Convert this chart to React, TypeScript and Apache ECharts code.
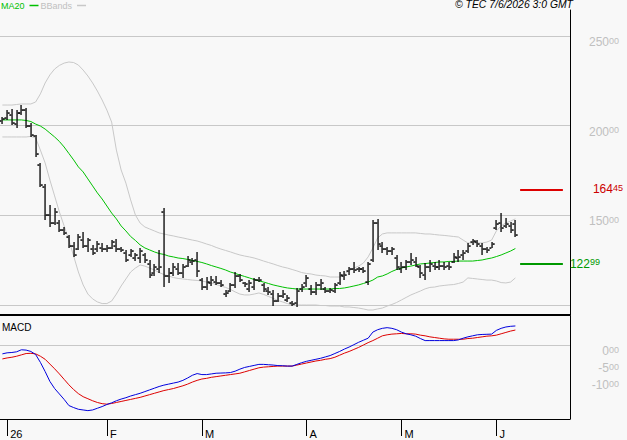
import React, { useEffect, useRef } from "react";
import * as echarts from "echarts";

// ---- Data ----
const categoryCount = 120; // trading days from 31 Dec 2025, incl. empty days to the right
const tickIndex = [1, 22, 42, 64, 84, 104];
const tickLabels = ["26", "F", "M", "A", "M", "J"];
const priceLabelValues = [150, 200, 250];

const openP = [
  202.5, 204, 206, 201, 207, 209, 200, 194, 178, 166,
  150, 146, 146, 142, 138, 133, 131, 136, 133, 131,
  131, 132, 131, 132, 133, 131, 129, 128, 126, 126,
  128, 123, 118, 120, 152, 116, 118, 120, 118, 122,
  124, 125, 114, 110, 112, 113, 112, 106, 108, 111,
  116, 112, 109, 110, 114, 111, 108, 106, 102, 105,
  103, 101, 101, 109, 112, 109, 107, 111, 109, 108,
  108, 112, 116, 119, 120, 120, 120, 113, 125, 146,
  133, 131, 130, 126, 120, 121, 124, 124, 121, 117,
  121, 122, 121, 122, 122, 124, 126, 128, 130, 135,
  135, 133, 131, 132, 143, 146, 144, 144, 145,
];
const highP = [
  204.8, 208.7, 209.3, 208.7, 211.5, 209.9, 201.5, 194.8, 179.2, 167.5,
  155.8, 154.1, 147.4, 143.5, 139.0, 135.1, 139.6, 140.7, 137.4, 133.5,
  135.7, 134.6, 133.5, 136.2, 136.8, 132.3, 130.7, 131.2, 129.0, 131.8,
  129.0, 125.1, 122.9, 130.7, 154.1, 120.6, 123.4, 123.4, 122.9, 127.3,
  126.2, 129.6, 115.1, 115.6, 116.2, 116.2, 113.9, 108.4, 112.3, 118.4,
  117.3, 112.8, 113.9, 115.1, 115.6, 112.3, 110.0, 108.4, 106.7, 108.4,
  105.6, 102.2, 109.5, 111.7, 116.7, 111.2, 112.8, 114.5, 110.0, 109.5,
  112.3, 118.4, 119.0, 121.2, 124.0, 121.2, 121.2, 124.0, 147.4, 148.0,
  135.1, 132.3, 132.3, 127.9, 124.0, 125.1, 129.0, 126.8, 122.3, 123.4,
  125.1, 124.0, 125.1, 124.0, 124.0, 129.0, 130.7, 130.7, 134.6, 136.8,
  136.2, 134.6, 132.3, 135.1, 147.4, 151.3, 148.5, 146.3, 147.4,
];
const lowP = [
  200.9, 203.2, 200.4, 198.7, 205.9, 198.7, 193.7, 182.5, 165.8, 147.4,
  143.5, 144.6, 140.7, 139.0, 131.8, 126.8, 130.7, 131.8, 129.6, 127.9,
  129.6, 129.6, 129.6, 131.2, 129.6, 129.6, 124.0, 126.8, 124.5, 123.4,
  123.4, 115.1, 116.2, 117.8, 110.0, 112.3, 116.2, 116.7, 115.1, 121.2,
  122.3, 115.6, 108.4, 108.4, 110.6, 111.2, 110.0, 104.5, 107.3, 109.5,
  112.8, 110.0, 107.3, 108.4, 112.8, 107.3, 105.6, 99.4, 101.7, 103.9,
  101.7, 99.4, 98.9, 107.3, 110.0, 105.6, 105.6, 108.4, 106.7, 106.7,
  106.7, 111.2, 113.9, 116.7, 117.8, 118.4, 117.8, 111.2, 124.0, 130.7,
  129.0, 127.9, 127.9, 119.5, 117.8, 119.5, 122.3, 121.2, 115.1, 113.9,
  118.4, 119.5, 119.5, 119.5, 119.5, 123.4, 124.0, 125.1, 129.0, 133.5,
  132.3, 127.9, 129.0, 131.8, 141.8, 140.7, 142.9, 140.2, 137.9,
];
const closeP = [
  203.5, 207, 201.5, 207, 209, 200, 195, 184, 167, 150,
  146, 152, 142, 140, 133, 128, 138, 133, 136, 129,
  134, 131, 132, 135, 131, 130.5, 125, 130, 128, 130,
  125, 117, 121, 121, 116, 118, 121, 118, 121, 125,
  124.5, 119, 110, 113, 114, 112, 111, 106.5, 111, 116,
  114, 111.5, 112, 114, 114, 109, 107, 102, 105, 106,
  104, 100.5, 108, 110, 115, 107, 111, 112, 108, 108.5,
  111, 117, 117, 120, 119.5, 120, 119, 123, 146, 134,
  131, 130, 131, 121, 121, 124, 125, 122, 118, 121,
  123, 121, 122, 121, 121, 127, 127, 129, 133, 135.5,
  134, 131, 130.5, 134, 145, 143, 145, 142, 139,
];
const ma20 = [
  203.2, 203.2, 203.2, 203.2, 203.2, 202.9, 202.3, 200.9, 199.8, 198.1,
  195.9, 193.7, 191.2, 188.1, 184.5, 180.9, 177.0, 174.2, 170.3, 166.4,
  162.5, 159.1, 155.2, 151.3, 148.0, 144.1, 141.3, 138.2, 136.0, 133.5,
  131.8, 130.7, 129.6, 128.7, 128.2, 127.3, 126.8, 126.2, 125.9, 125.4,
  124.8, 124.3, 123.7, 122.9, 122.0, 121.2, 120.4, 119.5, 118.4, 117.6,
  116.7, 115.9, 115.1, 114.2, 113.4, 112.8, 112.0, 111.2, 110.6, 110.0,
  109.5, 109.2, 108.9, 108.9, 108.9, 108.9, 108.9, 108.9, 108.9, 108.9,
  109.2, 109.2, 109.5, 110.0, 110.6, 111.2, 112.0, 112.8, 113.9, 115.6,
  116.2, 117.3, 118.7, 119.8, 120.6, 121.2, 121.7, 122.3, 122.9, 123.1,
  123.4, 123.7, 124.0, 124.0, 124.3, 124.3, 124.5, 124.5, 124.5, 124.5,
  124.8, 125.1, 125.7, 126.2, 127.0, 127.9, 129.0, 130.1, 131.5,
];
const bbUpper = [
  211.5, 211.5, 211.5, 211.8, 212.1, 212.1, 212.1, 213.2, 217.7, 223.8,
  228.3, 231.6, 233.6, 234.9, 235.5, 235.2, 233.8, 231.0, 227.7, 223.8,
  219.3, 214.3, 208.7, 202.0, 186.4, 175.3, 168.0, 158.6, 150.2, 145.7,
  143.5, 142.4, 141.3, 140.2, 139.6, 139.0, 138.5, 137.9, 137.4, 136.8,
  136.2, 135.7, 134.9, 134.0, 133.2, 132.1, 131.2, 130.4, 129.6, 128.7,
  127.9, 127.3, 126.8, 126.2, 125.4, 124.5, 123.7, 122.9, 122.0, 121.2,
  120.6, 119.8, 119.0, 118.1, 117.6, 117.3, 116.7, 116.4, 116.2, 115.6,
  115.6, 115.6, 117.3, 119.0, 120.6, 121.7, 123.4, 126.8, 131.8, 137.4,
  139.6, 140.2, 140.2, 140.2, 140.2, 140.2, 140.2, 140.2, 139.9, 139.6,
  139.6, 139.3, 139.0, 138.8, 138.5, 138.2, 137.9, 136.2, 134.6, 134.6,
  134.6, 134.6, 135.1, 136.2, 141.3, 144.1, 145.8, 146.8, 148.0,
];
const bbLower = [
  193.7, 193.7, 193.7, 193.7, 193.7, 193.7, 194.0, 193.1, 186.4, 179.2,
  169.7, 160.8, 151.9, 144.1, 136.2, 127.3, 118.4, 111.2, 106.1, 103.4,
  101.7, 100.8, 100.8, 102.2, 106.1, 110.6, 114.5, 118.4, 120.6, 122.3,
  121.7, 120.6, 119.5, 118.1, 117.0, 116.2, 115.3, 114.8, 114.5, 114.2,
  113.9, 113.7, 113.4, 112.8, 112.3, 111.4, 110.6, 109.8, 108.7, 107.3,
  106.1, 105.6, 105.6, 106.1, 106.7, 105.9, 104.8, 103.7, 102.5, 101.7,
  100.8, 100.0, 100.0, 100.0, 100.0, 100.0, 100.0, 99.7, 99.7, 99.4,
  99.4, 99.4, 98.9, 98.9, 98.6, 98.3, 97.8, 97.2, 97.2, 97.8,
  98.3, 99.4, 100.3, 101.4, 102.8, 104.2, 105.6, 106.7, 107.8, 109.0,
  109.8, 110.0, 110.6, 110.9, 111.2, 111.4, 112.0, 112.8, 115.1, 114.8,
  114.5, 114.2, 113.9, 113.9, 113.4, 112.5, 112.3, 112.8, 115.1,
];
const macdLine = [
  -2.6, -2.3, -2.2, -2.0, -1.4, -1.5, -1.9, -2.8, -5.1, -7.8,
  -10.7, -12.8, -14.4, -16.0, -17.8, -18.4, -18.9, -19.1, -19.3, -19.1,
  -18.6, -18.1, -17.5, -17.0, -16.4, -15.9, -15.5, -15.0, -14.6, -14.2,
  -13.7, -13.2, -12.7, -12.2, -11.8, -11.5, -11.2, -10.9, -10.4, -9.7,
  -8.9, -8.4, -8.7, -8.7, -8.5, -8.3, -8.25, -8.2, -8.1, -7.7,
  -7.1, -6.6, -6.3, -6.0, -5.7, -5.7, -5.8, -5.9, -6.05, -6.1,
  -6.2, -6.2, -5.7, -5.2, -4.8, -4.5, -4.2, -3.9, -3.5, -3.1,
  -2.5, -1.9, -1.2, -0.6, 0.1, 0.8, 1.4, 2.0, 3.8, 4.5,
  4.9, 5.1, 4.9, 4.5, 3.8, 3.3, 3.0, 2.6, 1.9, 1.3,
  1.3, 1.3, 1.3, 1.3, 1.3, 1.3, 1.5, 2.0, 2.4, 2.7,
  3.0, 3.1, 3.15, 3.2, 4.3, 4.9, 5.3, 5.5, 5.6,
];
const signalLine = [
  -4.1, -3.8, -3.6, -3.3, -2.9, -2.5, -2.45, -2.6, -3.3, -4.2,
  -5.6, -7.0, -8.5, -10.1, -11.7, -13.1, -14.3, -15.2, -15.8, -16.4,
  -16.9, -17.25, -17.4, -17.2, -16.9, -16.6, -16.3, -16.0, -15.7, -15.4,
  -15.0, -14.6, -14.2, -13.8, -13.4, -13.1, -12.8, -12.4, -12.0, -11.5,
  -10.9, -10.4, -10.0, -9.8, -9.5, -9.3, -9.1, -8.9, -8.7, -8.5,
  -8.3, -7.9, -7.5, -7.1, -6.7, -6.5, -6.4, -6.3, -6.2, -6.2,
  -6.2, -6.2, -5.9, -5.6, -5.3, -5.0, -4.7, -4.5, -4.2, -4.0,
  -3.6, -3.0, -2.4, -1.9, -1.3, -0.7, 0.0, 0.7, 1.3, 2.0,
  2.7, 3.0, 3.2, 3.3, 3.4, 3.3, 3.3, 3.2, 2.9, 2.7,
  2.4, 2.2, 2.0, 1.8, 1.7, 1.7, 1.7, 1.7, 1.9, 2.0,
  2.2, 2.4, 2.6, 2.7, 2.9, 3.3, 3.7, 4.1, 4.4,
];
const resistanceLevel = 164.45;
const supportLevel = 122.99;
const markerSpan = [109, 118];
const macdLabelValues = [0, -5, -10];

const FONT = '"Liberation Sans", Arial, Helvetica, sans-serif';
const GRID_C = "#c8c8c8";
const LABEL_C = "#c0c0c0";

function splitNum(v: number) {
  const s = v.toFixed(2).split(".");
  return [s[0], s[1]];
}

export default function App() {
  const ref = useRef<HTMLDivElement>(null);
  useEffect(() => {
    if (!ref.current) return;
    const chart = echarts.init(ref.current, undefined, { renderer: "svg" });
    const cats = Array.from({ length: categoryCount }, (_, i) => String(i));
    const showTick = (idx: number) => tickIndex.indexOf(idx) >= 0;
    const ohlc = openP.map((o, i) => [i, o, highP[i], lowP[i], closeP[i]]);

    const richNum = (color: string) => ({
      a: { fontSize: 12, color, fontFamily: FONT },
      b: { fontSize: 9, color, fontFamily: FONT, verticalAlign: "top" as const },
    });

    const option: any = {
      animation: false,
      backgroundColor: "#f8f8f8",
      textStyle: { fontFamily: FONT },
      title: [
        {
          text: "© TEC 7/6/2026 3:0 GMT",
          left: 455,
          top: -1,
          padding: 0,
          textStyle: { fontSize: 10.4, fontStyle: "italic", fontWeight: "normal", color: "#000", fontFamily: FONT },
        },
        {
          text: "MACD",
          left: 2,
          top: 322,
          padding: 0,
          textStyle: { fontSize: 10, fontWeight: "normal", color: "#000", fontFamily: FONT },
        },
      ],
      legend: {
        left: 1,
        top: 1,
        padding: 0,
        itemGap: 2,
        itemWidth: 9,
        itemHeight: 1.5,
        align: "right",
        icon: "rect",
        selectedMode: false,
        textStyle: { fontSize: 9, fontFamily: FONT },
        data: [
          { name: "MA20", textStyle: { color: "#00c000" } },
          { name: "BBands", textStyle: { color: LABEL_C } },
        ],
      },
      grid: [
        { left: 0, top: 10, width: 570, height: 305 },
        { left: 0, top: 316, width: 570, height: 103 },
      ],
      xAxis: [
        {
          type: "category",
          gridIndex: 0,
          data: cats,
          boundaryGap: true,
          axisLine: { show: true, onZero: false, lineStyle: { color: "#000", width: 2 } },
          axisTick: { show: false },
          axisLabel: { show: false },
          splitLine: { show: false },
        },
        {
          type: "category",
          gridIndex: 1,
          data: cats,
          boundaryGap: true,
          axisLine: { show: true, onZero: false, lineStyle: { color: "#000", width: 1 } },
          axisTick: {
            show: true,
            alignWithLabel: true,
            interval: (idx: number) => showTick(idx),
            length: 17,
            lineStyle: { color: "#000", width: 1 },
          },
          axisLabel: {
            interval: (idx: number) => showTick(idx),
            formatter: (val: string) => {
              const k = tickIndex.indexOf(Number(val));
              return k >= 0 ? tickLabels[k] : "";
            },
            align: "left",
            margin: 9,
            padding: [0, 0, 0, 3],
            fontSize: 11,
            color: "#000",
            fontFamily: FONT,
          },
          splitLine: { show: false },
        },
      ],
      yAxis: [
        {
          type: "value",
          gridIndex: 0,
          position: "right",
          min: 94.42,
          max: 264.5,
          splitNumber: 4,
          axisLine: { show: true, lineStyle: { color: "#000", width: 1 } },
          axisTick: { show: false },
          splitLine: { show: true, showMinLine: false, showMaxLine: false, lineStyle: { color: GRID_C, width: 1 } },
          axisLabel: {
            showMinLabel: false,
            showMaxLabel: false,
            align: "right",
            margin: 49,
            verticalAlign: "top",
            formatter: (v: number) => {
              if (!priceLabelValues.some((m) => Math.abs(m - v) < 1e-6)) return "";
              const [a, b] = splitNum(v);
              return `{a|${a}}{b|${b}}`;
            },
            rich: richNum(LABEL_C),
          },
        },
        {
          type: "value",
          gridIndex: 1,
          position: "right",
          min: -21.76,
          max: 8.53,
          axisLine: { show: true, lineStyle: { color: "#000", width: 1 } },
          axisTick: { show: false },
          splitLine: { show: false },
          axisLabel: {
            showMinLabel: false,
            showMaxLabel: false,
            align: "right",
            margin: 49,
            verticalAlign: "top",
            formatter: (v: number) => {
              if (!macdLabelValues.some((m) => Math.abs(m - v) < 1e-6)) return "";
              const [a, b] = splitNum(v);
              return `{a|${a}}{b|${b}}`;
            },
            rich: richNum(LABEL_C),
          },
        },
      ],
      series: [
        {
          name: "BBands",
          type: "line",
          xAxisIndex: 0,
          yAxisIndex: 0,
          data: bbUpper,
          color: GRID_C,
          symbol: "none",
          lineStyle: { color: GRID_C, width: 1 },
          silent: true,
          z: 2,
        },
        {
          name: "BBands",
          type: "line",
          xAxisIndex: 0,
          yAxisIndex: 0,
          data: bbLower,
          color: GRID_C,
          symbol: "none",
          lineStyle: { color: GRID_C, width: 1 },
          silent: true,
          z: 2,
        },
        {
          name: "MA20",
          type: "line",
          xAxisIndex: 0,
          yAxisIndex: 0,
          data: ma20,
          color: "#00c000",
          symbol: "none",
          lineStyle: { color: "#00c000", width: 1 },
          silent: true,
          z: 3,
        },
        {
          name: "Price",
          type: "custom",
          xAxisIndex: 0,
          yAxisIndex: 0,
          data: ohlc,
          encode: { x: 0, y: [1, 2, 3, 4] },
          silent: true,
          z: 4,
          renderItem: (params: any, api: any) => {
            const idx = api.value(0);
            const o = api.coord([idx, api.value(1)]);
            const h = api.coord([idx, api.value(2)]);
            const l = api.coord([idx, api.value(3)]);
            const c = api.coord([idx, api.value(4)]);
            const x = Math.round(h[0]);
            const top = Math.round(h[1]);
            const bot = Math.round(l[1]);
            return {
              type: "group",
              children: [
                { type: "rect", shape: { x: x - 0.6, y: top, width: 1.3, height: Math.max(2, bot - top) }, style: { fill: "#000" } },
                { type: "rect", shape: { x: x - 2.6, y: Math.round(o[1]) - 0.7, width: 2, height: 1.5 }, style: { fill: "#000" } },
                { type: "rect", shape: { x: x + 0.7, y: Math.round(c[1]) - 0.7, width: 2, height: 1.5 }, style: { fill: "#000" } },
              ],
            };
          },
          markLine: {
            silent: true,
            symbol: "none",
            animation: false,
            data: [
              [
                {
                  coord: [markerSpan[0], resistanceLevel],
                  lineStyle: { color: "#dd0000", width: 2, type: "solid" },
                  label: {
                    show: true,
                    position: "end",
                    distance: 30,
                    formatter: () => {
                      const [a, b] = splitNum(resistanceLevel);
                      return `{a|${a}}{b|${b}}`;
                    },
                    rich: richNum("#cc0000"),
                  },
                },
                { coord: [markerSpan[1], resistanceLevel] },
              ],
              [
                {
                  coord: [markerSpan[0], supportLevel],
                  lineStyle: { color: "#009900", width: 2, type: "solid" },
                  label: {
                    show: true,
                    position: "end",
                    distance: 7,
                    formatter: () => {
                      const [a, b] = splitNum(supportLevel);
                      return `{a|${a}}{b|${b}}`;
                    },
                    rich: richNum("#009900"),
                  },
                },
                { coord: [markerSpan[1], supportLevel] },
              ],
            ],
          },
        },
        {
          name: "MACD",
          type: "line",
          xAxisIndex: 1,
          yAxisIndex: 1,
          data: macdLine,
          color: "#0000dd",
          symbol: "none",
          lineStyle: { color: "#0000dd", width: 1 },
          silent: true,
          z: 4,
          markLine: {
            silent: true,
            symbol: "none",
            label: { show: false },
            lineStyle: { color: GRID_C, width: 1, type: "solid" },
            data: [{ yAxis: 0 }],
            z: 1,
          },
        },
        {
          name: "Signal",
          type: "line",
          xAxisIndex: 1,
          yAxisIndex: 1,
          data: signalLine,
          color: "#dd0000",
          symbol: "none",
          lineStyle: { color: "#dd0000", width: 1 },
          silent: true,
          z: 3,
        },
      ],
    };
    chart.setOption(option);
    return () => chart.dispose();
  }, []);

  return (
    <div
      ref={ref}
      style={{ position: "fixed", left: 0, top: 0, width: 627, height: 440, background: "#f8f8f8" }}
    />
  );
}
